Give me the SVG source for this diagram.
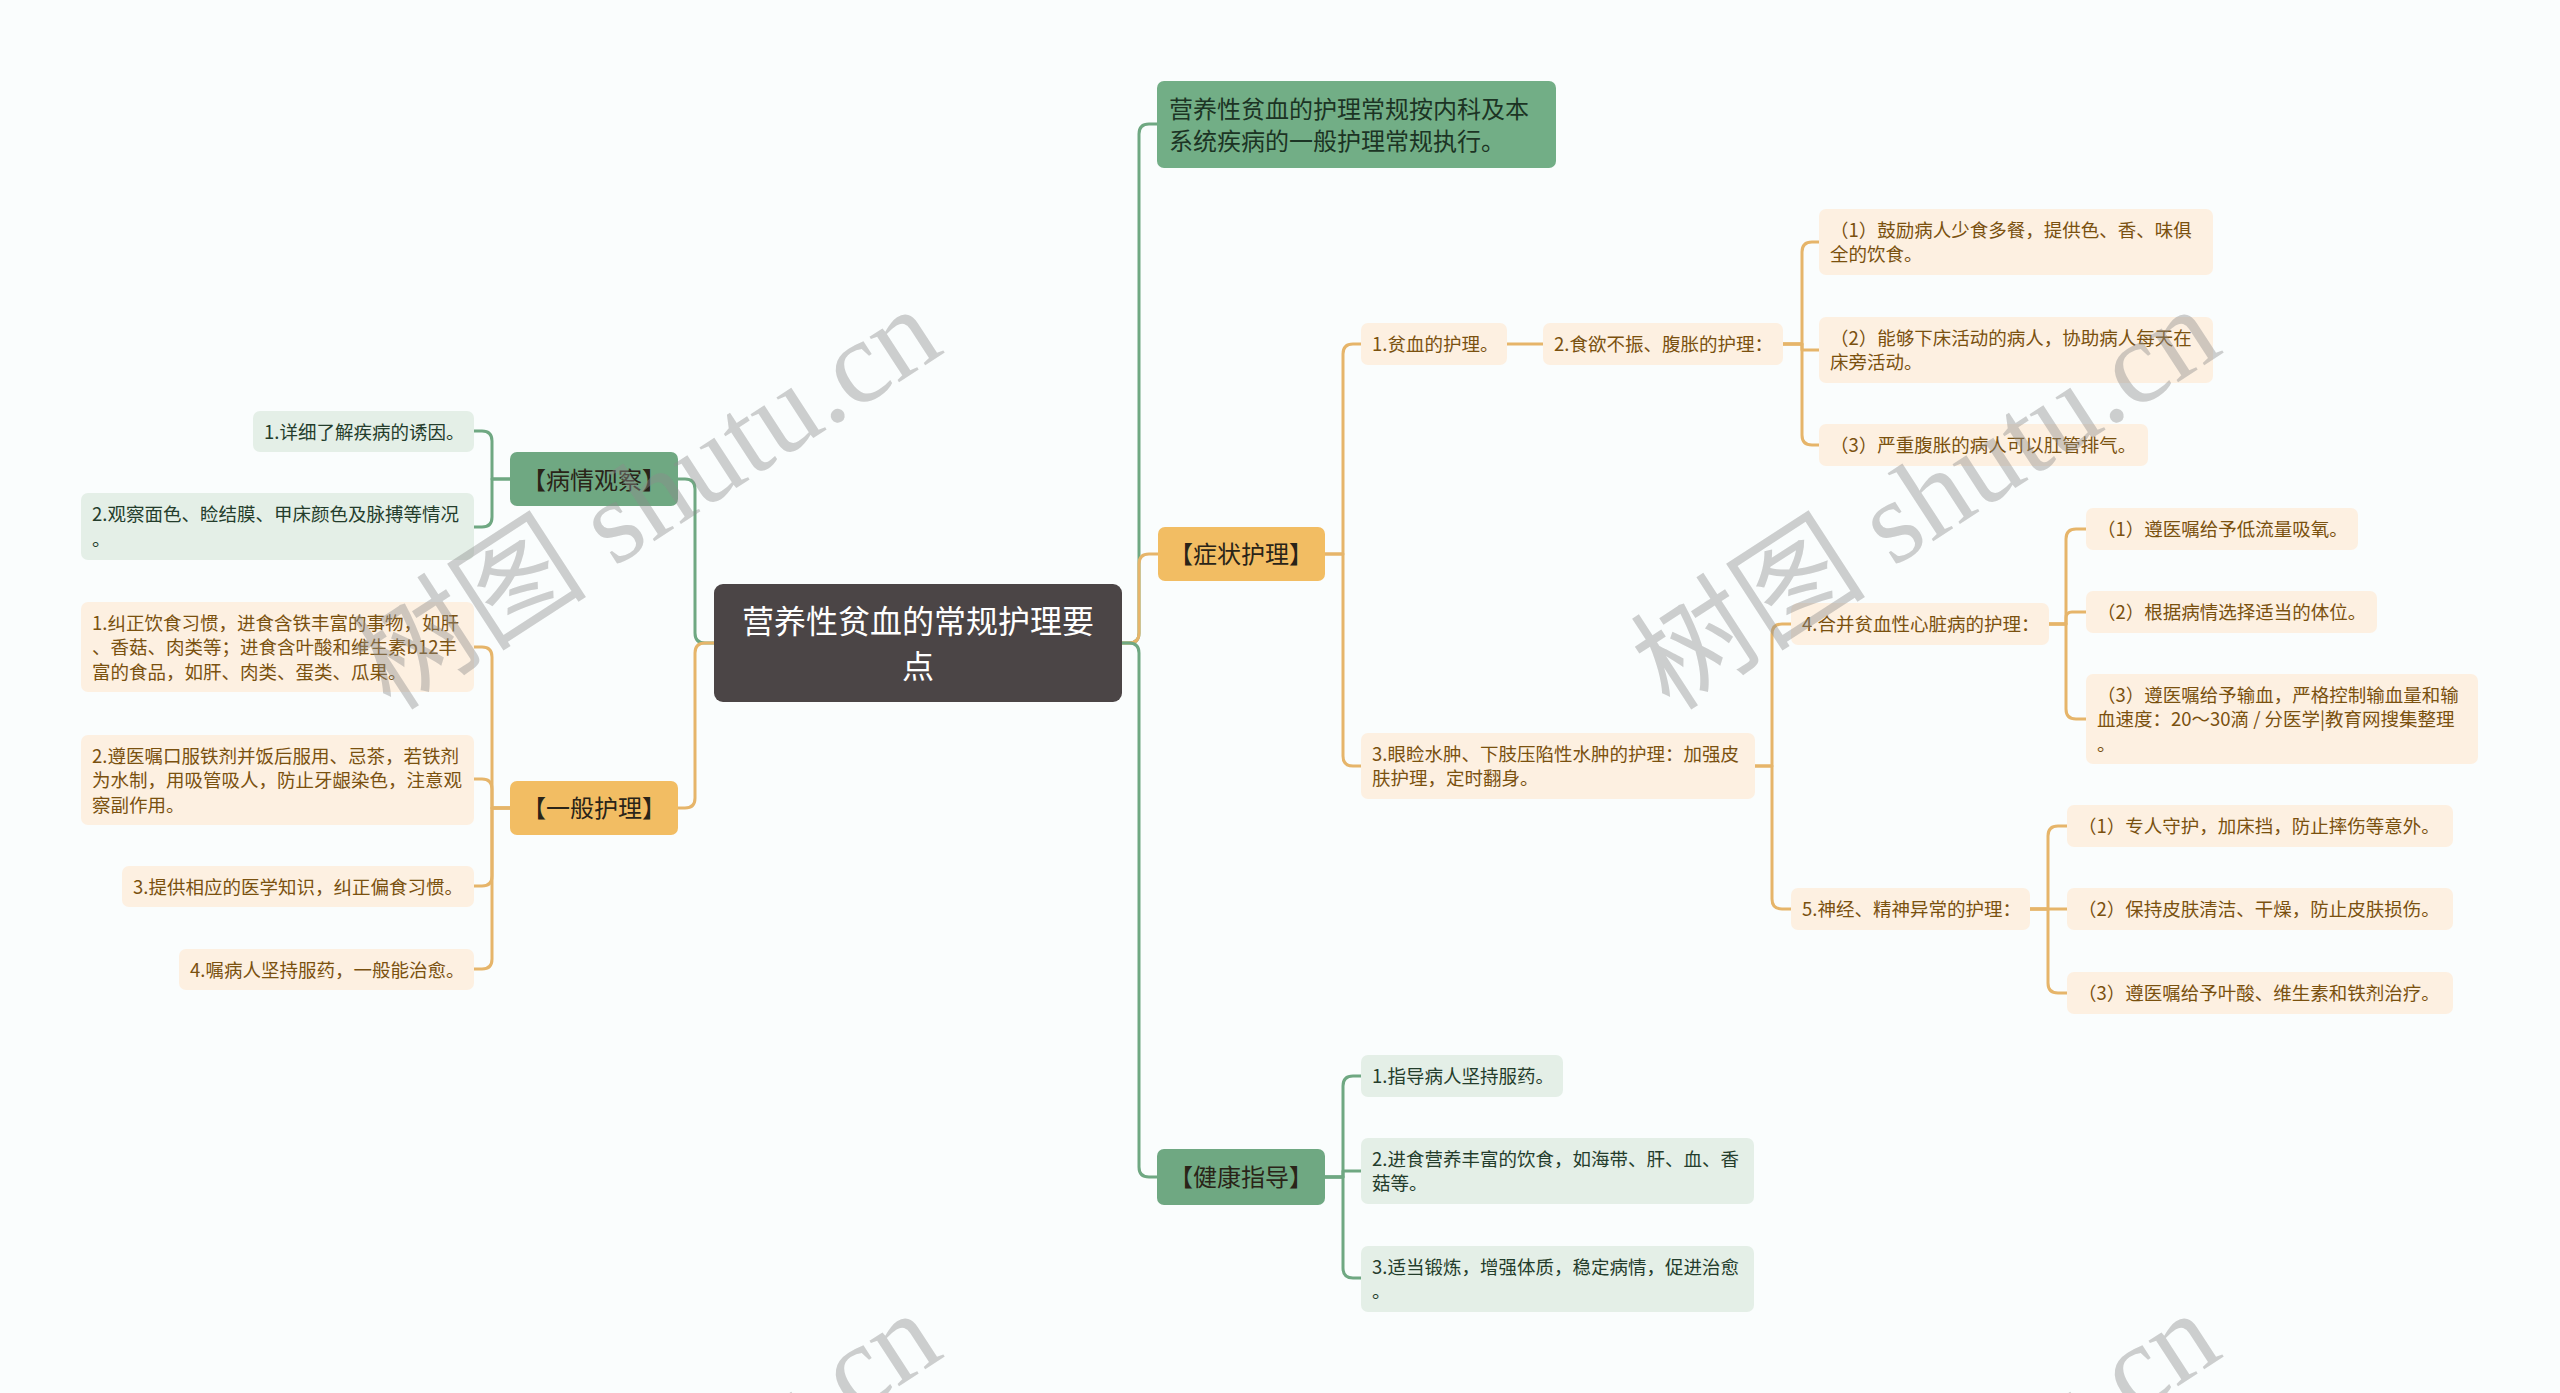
<svg xmlns="http://www.w3.org/2000/svg" width="2560" height="1393" viewBox="0 0 2560 1393">
<style>
text{font-family:"Noto Sans CJK SC","Noto Sans",sans-serif;}
.c{fill:none;stroke-width:3;stroke-linecap:round;stroke-linejoin:round}
.cg{stroke:#6fa882}
.co{stroke:#e6b56a}
.leafO{fill:#fdf0e1}
.leafG{fill:#e4efe7}
.tO{font-size:18.5px;fill:#7a510f}
.tG{font-size:18.5px;fill:#243d2c}
.brG{fill:#6fa882}
.brO{fill:#f2bd63}
.tB{font-size:24px;fill:#2a2418;text-anchor:middle}
.wm{font-family:"Liberation Serif","Noto Sans CJK SC",serif;font-size:118px;fill:#8c8c8c;fill-opacity:0.42;text-anchor:middle}
</style>
<rect width="2560" height="1393" fill="#fafdfd"/>

<g id="connectors">
<path class="c cg" d="M714,643 H705 Q695,643 695,633 V489 Q695,479 685,479 H678"/>
<path class="c co" d="M714,643 H705 Q695,643 695,653 V798 Q695,808 685,808 H678"/>
<path class="c cg" d="M1122,643 H1129 Q1139,643 1139,633 V134 Q1139,124 1149,124 H1157"/>
<path class="c co" d="M1122,643 H1129 Q1139,643 1139,633 V564 Q1139,554 1149,554 H1158"/>
<path class="c cg" d="M1122,643 H1129 Q1139,643 1139,653 V1167 Q1139,1177 1149,1177 H1157"/>
<path class="c cg" d="M510,479 H492 V441 Q492,431 482,431 H474"/>
<path class="c cg" d="M510,479 H492 V517 Q492,527 482,527 H474"/>
<path class="c co" d="M510,808 H492 V657 Q492,647 482,647 H474"/>
<path class="c co" d="M510,808 H492 V789 Q492,779 482,779 H474"/>
<path class="c co" d="M510,808 H492 V876 Q492,886 482,886 H474"/>
<path class="c co" d="M510,808 H492 V959 Q492,969 482,969 H474"/>
<path class="c co" d="M1324,554 H1343 V354 Q1343,344 1353,344 H1361"/>
<path class="c co" d="M1324,554 H1343 V756 Q1343,766 1353,766 H1361"/>
<path class="c co" d="M1507,344 H1543"/>
<path class="c co" d="M1783,344 H1802 V252 Q1802,242 1812,242 H1819"/>
<path class="c co" d="M1783,344 H1802 V350 H1819"/>
<path class="c co" d="M1783,344 H1802 V435 Q1802,445 1812,445 H1819"/>
<path class="c co" d="M1755,766 H1772 V634 Q1772,624 1782,624 H1791"/>
<path class="c co" d="M1755,766 H1772 V899 Q1772,909 1782,909 H1791"/>
<path class="c co" d="M2049,624 H2066 V539 Q2066,529 2076,529 H2086"/>
<path class="c co" d="M2049,624 H2066 V618 Q2066,612 2072,612 H2086"/>
<path class="c co" d="M2049,624 H2066 V709 Q2066,719 2076,719 H2086"/>
<path class="c co" d="M2030,909 H2048 V836 Q2048,826 2058,826 H2067"/>
<path class="c co" d="M2030,909 H2067"/>
<path class="c co" d="M2030,909 H2048 V983 Q2048,993 2058,993 H2067"/>
<path class="c cg" d="M1325,1177 H1343 V1086 Q1343,1076 1353,1076 H1361"/>
<path class="c cg" d="M1325,1177 H1343 V1171 H1361"/>
<path class="c cg" d="M1325,1177 H1343 V1268 Q1343,1278 1353,1278 H1361"/>
</g>

<g id="root">
<rect x="714" y="584" width="408" height="118" rx="9" fill="#4b4546"/>
<text x="918" y="633" font-size="32" fill="#ffffff" text-anchor="middle">营养性贫血的常规护理要</text>
<text x="918" y="678" font-size="32" fill="#ffffff" text-anchor="middle">点</text>
</g>

<g id="n-top">
<rect x="1157" y="81" width="399" height="87" rx="7" fill="#72ae86"/>
<text x="1169" y="118" font-size="24" fill="#1c3424">营养性贫血的护理常规按内科及本</text>
<text x="1169" y="150" font-size="24" fill="#1c3424">系统疾病的一般护理常规执行。</text>
</g>

<g id="b-zhengzhuang">
<rect class="brO" x="1158" y="527" width="167" height="54" rx="7"/>
<text class="tB" x="1241" y="562.5">【症状护理】</text>
</g>
<g id="b-bingqing">
<rect class="brG" x="510" y="452" width="168" height="54" rx="7"/>
<text class="tB" x="594" y="488.5">【病情观察】</text>
</g>
<g id="b-yiban">
<rect class="brO" x="510" y="781" width="168" height="54" rx="7"/>
<text class="tB" x="594" y="816.5">【一般护理】</text>
</g>
<g id="b-jiankang">
<rect class="brG" x="1157" y="1149" width="168" height="56" rx="7"/>
<text class="tB" x="1241" y="1185.5">【健康指导】</text>
</g>

<g id="l-bq1"><rect class="leafG" x="253" y="411" width="221" height="41" rx="7"/><text class="tG" x="264" y="438.5">1.详细了解疾病的诱因。</text></g>
<g id="l-bq2"><rect class="leafG" x="81" y="493" width="393" height="67" rx="7"/><text class="tG" x="92" y="521">2.观察面色、睑结膜、甲床颜色及脉搏等情况</text><text class="tG" x="92" y="545.5">。</text></g>

<g id="l-yb1"><rect class="leafO" x="81" y="602" width="393" height="90" rx="7"/><text class="tO" x="92" y="629.5">1.纠正饮食习惯，进食含铁丰富的事物，如肝</text><text class="tO" x="92" y="654">、香菇、肉类等；进食含叶酸和维生素b12丰</text><text class="tO" x="92" y="678.5">富的食品，如肝、肉类、蛋类、瓜果。</text></g>
<g id="l-yb2"><rect class="leafO" x="81" y="735" width="393" height="90" rx="7"/><text class="tO" x="92" y="762.5">2.遵医嘱口服铁剂并饭后服用、忌茶，若铁剂</text><text class="tO" x="92" y="787">为水制，用吸管吸人，防止牙龈染色，注意观</text><text class="tO" x="92" y="811.5">察副作用。</text></g>
<g id="l-yb3"><rect class="leafO" x="122" y="866" width="352" height="41" rx="7"/><text class="tO" x="133" y="893.5">3.提供相应的医学知识，纠正偏食习惯。</text></g>
<g id="l-yb4"><rect class="leafO" x="179" y="949" width="295" height="41" rx="7"/><text class="tO" x="190" y="976.5">4.嘱病人坚持服药，一般能治愈。</text></g>

<g id="l-zz1"><rect class="leafO" x="1361" y="323" width="146" height="42" rx="7"/><text class="tO" x="1372" y="350.5">1.贫血的护理。</text></g>
<g id="l-zz2"><rect class="leafO" x="1543" y="323" width="240" height="42" rx="7"/><text class="tO" x="1554" y="350.5">2.食欲不振、腹胀的护理：</text></g>
<g id="l-zz2a"><rect class="leafO" x="1819" y="209" width="394" height="66" rx="7"/><text class="tO" x="1830" y="236.5">（1）鼓励病人少食多餐，提供色、香、味俱</text><text class="tO" x="1830" y="261">全的饮食。</text></g>
<g id="l-zz2b"><rect class="leafO" x="1819" y="317" width="394" height="66" rx="7"/><text class="tO" x="1830" y="344.5">（2）能够下床活动的病人，协助病人每天在</text><text class="tO" x="1830" y="369">床旁活动。</text></g>
<g id="l-zz2c"><rect class="leafO" x="1819" y="424" width="329" height="42" rx="7"/><text class="tO" x="1830" y="451.5">（3）严重腹胀的病人可以肛管排气。</text></g>
<g id="l-zz3"><rect class="leafO" x="1361" y="733" width="394" height="66" rx="7"/><text class="tO" x="1372" y="760.5">3.眼睑水肿、下肢压陷性水肿的护理：加强皮</text><text class="tO" x="1372" y="785">肤护理，定时翻身。</text></g>
<g id="l-zz4"><rect class="leafO" x="1791" y="603" width="258" height="42" rx="7"/><text class="tO" x="1802" y="630.5">4.合并贫血性心脏病的护理：</text></g>
<g id="l-zz4a"><rect class="leafO" x="2086" y="508" width="272" height="42" rx="7"/><text class="tO" x="2097" y="535.5">（1）遵医嘱给予低流量吸氧。</text></g>
<g id="l-zz4b"><rect class="leafO" x="2086" y="591" width="291" height="42" rx="7"/><text class="tO" x="2097" y="618.5">（2）根据病情选择适当的体位。</text></g>
<g id="l-zz4c"><rect class="leafO" x="2086" y="674" width="392" height="90" rx="7"/><text class="tO" x="2097" y="701.5">（3）遵医嘱给予输血，严格控制输血量和输</text><text class="tO" x="2097" y="726">血速度：20～30滴 / 分医学|教育网搜集整理</text><text class="tO" x="2097" y="750.5">。</text></g>
<g id="l-zz5"><rect class="leafO" x="1791" y="888" width="239" height="42" rx="7"/><text class="tO" x="1802" y="915.5">5.神经、精神异常的护理：</text></g>
<g id="l-zz5a"><rect class="leafO" x="2067" y="805" width="386" height="42" rx="7"/><text class="tO" x="2078" y="832.5">（1）专人守护，加床挡，防止摔伤等意外。</text></g>
<g id="l-zz5b"><rect class="leafO" x="2067" y="888" width="386" height="42" rx="7"/><text class="tO" x="2078" y="915.5">（2）保持皮肤清洁、干燥，防止皮肤损伤。</text></g>
<g id="l-zz5c"><rect class="leafO" x="2067" y="972" width="386" height="42" rx="7"/><text class="tO" x="2078" y="999.5">（3）遵医嘱给予叶酸、维生素和铁剂治疗。</text></g>

<g id="l-jk1"><rect class="leafG" x="1361" y="1055" width="202" height="42" rx="7"/><text class="tG" x="1372" y="1082.5">1.指导病人坚持服药。</text></g>
<g id="l-jk2"><rect class="leafG" x="1361" y="1138" width="393" height="66" rx="7"/><text class="tG" x="1372" y="1165.5">2.进食营养丰富的饮食，如海带、肝、血、香</text><text class="tG" x="1372" y="1190">菇等。</text></g>
<g id="l-jk3"><rect class="leafG" x="1361" y="1246" width="393" height="66" rx="7"/><text class="tG" x="1372" y="1273.5">3.适当锻炼，增强体质，稳定病情，促进治愈</text><text class="tG" x="1372" y="1298">。</text></g>

<g id="watermark">
<text class="wm" transform="translate(648,500) rotate(-33)" y="38">树图 shutu.cn</text>
<text class="wm" transform="translate(1927,500) rotate(-33)" y="38">树图 shutu.cn</text>
<text class="wm" transform="translate(648,1504) rotate(-33)" y="38">树图 shutu.cn</text>
<text class="wm" transform="translate(1927,1504) rotate(-33)" y="38">树图 shutu.cn</text>
</g>
</svg>
